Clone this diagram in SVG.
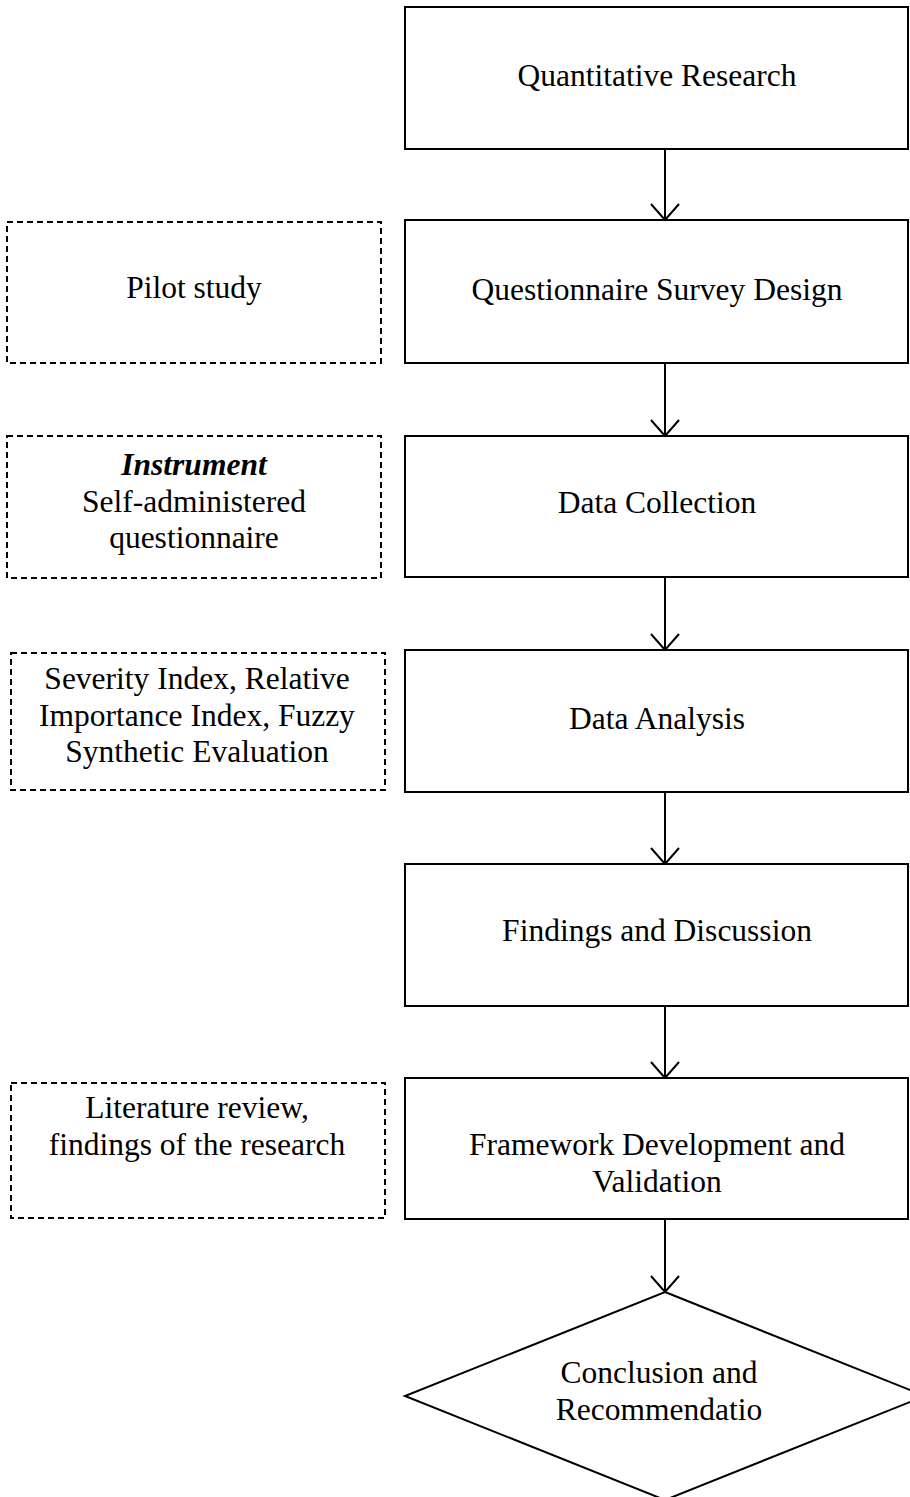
<svg xmlns="http://www.w3.org/2000/svg" width="910" height="1497" viewBox="0 0 910 1497">
<style>
.box{fill:#fff;stroke:#000;stroke-width:2}
.dash{fill:none;stroke:#000;stroke-width:2;stroke-dasharray:6 4}
.t{font-family:"Liberation Serif","Times New Roman",serif;font-size:31.5px;fill:#000;text-anchor:middle}
.b{font-weight:bold;font-style:italic}
.c{fill:none;stroke:#000;stroke-width:2}
</style>
<rect width="910" height="1497" fill="#fff"/>
<g id="connectors">
<path class="c" d="M665 149V220M651 204L665 220L679 204"/>
<path class="c" d="M665 363V436M651 420L665 436L679 420"/>
<path class="c" d="M665 577V650M651 634L665 650L679 634"/>
<path class="c" d="M665 792V864M651 848L665 864L679 848"/>
<path class="c" d="M665 1006V1078M651 1062L665 1078L679 1062"/>
<path class="c" d="M665 1219V1292M651 1276L665 1292L679 1276"/>
</g>
<g id="n1"><rect class="box" x="405" y="7" width="503" height="142"/><text class="t" x="657" y="86">Quantitative Research</text></g>
<g id="n2"><rect class="box" x="405" y="220" width="503" height="143"/><text class="t" x="657" y="300">Questionnaire Survey Design</text></g>
<g id="n3"><rect class="box" x="405" y="436" width="503" height="141"/><text class="t" x="657" y="513">Data Collection</text></g>
<g id="n4"><rect class="box" x="405" y="650" width="503" height="142"/><text class="t" x="657" y="729">Data Analysis</text></g>
<g id="n5"><rect class="box" x="405" y="864" width="503" height="142"/><text class="t" x="657" y="941">Findings and Discussion</text></g>
<g id="n6"><rect class="box" x="405" y="1078" width="503" height="141"/><text class="t" x="657" y="1155">Framework Development and</text><text class="t" x="657" y="1192">Validation</text></g>
<g id="n7"><polygon class="box" points="665,1292 925,1396 665,1500 405,1396"/><text class="t" x="659" y="1383">Conclusion and</text><text class="t" x="659" y="1420">Recommendatio</text></g>
<g id="d1"><rect class="dash" x="7" y="222" width="374" height="141"/><text class="t" x="194" y="298">Pilot study</text></g>
<g id="d2"><rect class="dash" x="7" y="436" width="374" height="142"/><text class="t b" x="194" y="475">Instrument</text><text class="t" x="194" y="512">Self-administered</text><text class="t" x="194" y="548">questionnaire</text></g>
<g id="d3"><rect class="dash" x="11" y="653" width="374" height="137"/><text class="t" x="197" y="689">Severity Index, Relative</text><text class="t" x="197" y="726">Importance Index, Fuzzy</text><text class="t" x="197" y="762">Synthetic Evaluation</text></g>
<g id="d4"><rect class="dash" x="11" y="1083" width="374" height="135"/><text class="t" x="197" y="1118">Literature review,</text><text class="t" x="197" y="1155">findings of the research</text></g>
</svg>
